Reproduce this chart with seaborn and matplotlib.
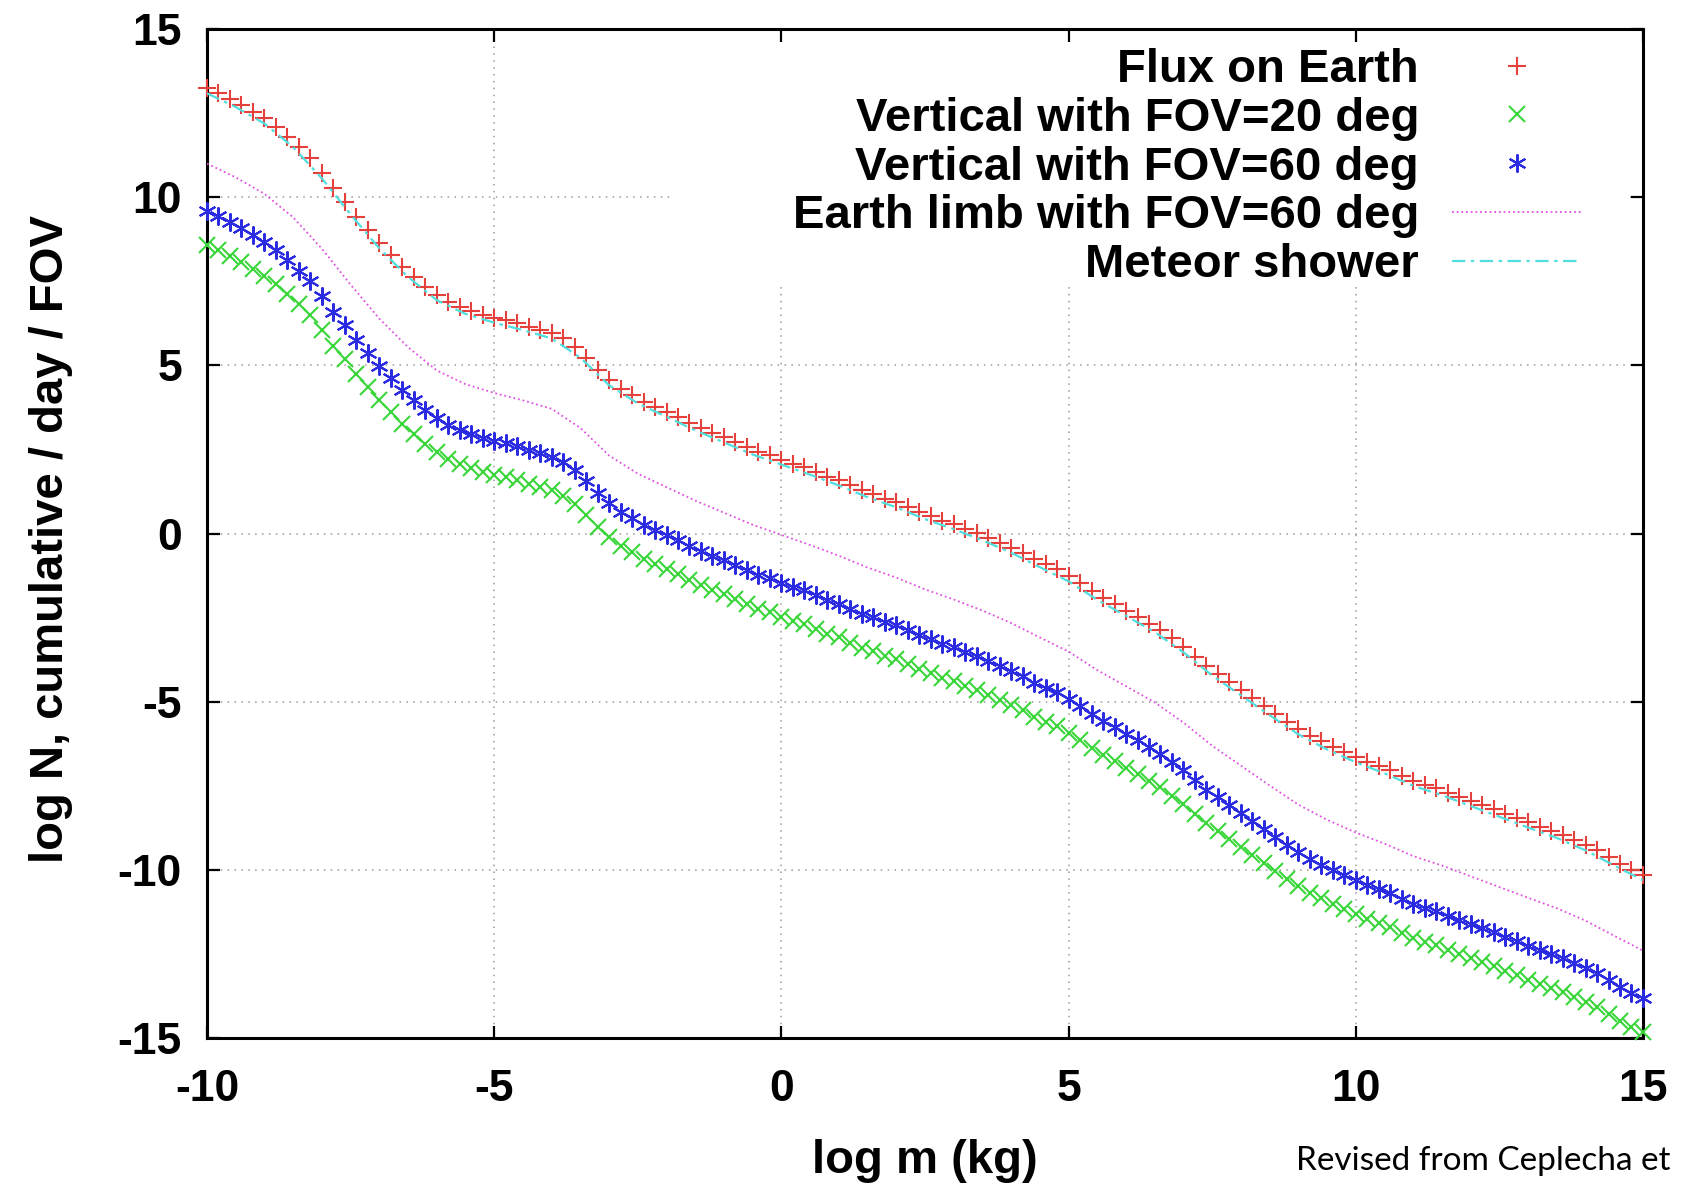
import numpy as np
import pandas as pd
import matplotlib
matplotlib.use("Agg")
import matplotlib.pyplot as plt
from matplotlib.patches import Rectangle
import seaborn as sns

# ---------------- data ----------------
log_m_fine = np.linspace(-10, 15, 126)   # marker sampling grid, step 0.2
log_m_coarse = np.linspace(-10, 15, 51)  # line sampling grid, step 0.5

flux_on_earth = [
    13.24, 13.09, 12.91, 12.74, 12.54, 12.34, 12.10, 11.80, 11.48, 11.16,
    10.71, 10.26, 9.86, 9.42, 9.02, 8.63, 8.28, 7.93, 7.63, 7.34,
    7.09, 6.89, 6.74, 6.62, 6.50, 6.42, 6.35, 6.25, 6.15, 6.05,
    5.95, 5.80, 5.55, 5.21, 4.86, 4.56, 4.31, 4.12, 3.92, 3.77,
    3.62, 3.47, 3.30, 3.15, 3.00, 2.86, 2.73, 2.58, 2.43, 2.33,
    2.20, 2.08, 1.98, 1.83, 1.68, 1.58, 1.43, 1.28, 1.18, 1.03,
    0.93, 0.78, 0.63, 0.53, 0.38, 0.28, 0.13, 0.03, -0.12, -0.27,
    -0.42, -0.57, -0.77, -0.92, -1.05, -1.27, -1.47, -1.72, -1.92, -2.10,
    -2.30, -2.47, -2.68, -2.88, -3.12, -3.38, -3.68, -3.95, -4.18, -4.41,
    -4.66, -4.90, -5.13, -5.37, -5.60, -5.82, -6.01, -6.18, -6.35, -6.49,
    -6.65, -6.80, -6.92, -7.04, -7.20, -7.35, -7.47, -7.57, -7.70, -7.83,
    -7.95, -8.08, -8.20, -8.33, -8.46, -8.59, -8.71, -8.83, -8.97, -9.12,
    -9.27, -9.42, -9.62, -9.82, -9.99, -10.16,
]

vertical_fov20 = [
    8.57, 8.42, 8.24, 8.07, 7.87, 7.67, 7.43, 7.13, 6.81, 6.49,
    6.04, 5.59, 5.19, 4.75, 4.35, 3.96, 3.61, 3.26, 2.96, 2.67,
    2.42, 2.22, 2.07, 1.95, 1.83, 1.75, 1.68, 1.58, 1.48, 1.38,
    1.28, 1.13, 0.88, 0.54, 0.19, -0.11, -0.36, -0.55, -0.75, -0.90,
    -1.05, -1.20, -1.37, -1.52, -1.67, -1.81, -1.94, -2.09, -2.24, -2.34,
    -2.47, -2.59, -2.69, -2.84, -2.99, -3.09, -3.24, -3.39, -3.49, -3.64,
    -3.74, -3.89, -4.04, -4.14, -4.29, -4.39, -4.54, -4.64, -4.79, -4.94,
    -5.09, -5.24, -5.44, -5.59, -5.72, -5.94, -6.14, -6.39, -6.59, -6.77,
    -6.97, -7.14, -7.35, -7.55, -7.79, -8.05, -8.35, -8.62, -8.85, -9.08,
    -9.33, -9.57, -9.80, -10.04, -10.27, -10.49, -10.68, -10.85, -11.02, -11.16,
    -11.32, -11.47, -11.59, -11.71, -11.87, -12.02, -12.14, -12.24, -12.37, -12.50,
    -12.62, -12.75, -12.87, -13.00, -13.13, -13.26, -13.38, -13.50, -13.64, -13.79,
    -13.94, -14.09, -14.29, -14.49, -14.66, -14.83,
]

vertical_fov60 = [
    9.58, 9.43, 9.25, 9.08, 8.88, 8.68, 8.44, 8.14, 7.82, 7.50,
    7.05, 6.60, 6.20, 5.76, 5.36, 4.97, 4.62, 4.27, 3.97, 3.68,
    3.43, 3.23, 3.08, 2.96, 2.84, 2.76, 2.69, 2.59, 2.49, 2.39,
    2.29, 2.14, 1.89, 1.55, 1.20, 0.90, 0.65, 0.46, 0.26, 0.11,
    -0.04, -0.19, -0.36, -0.51, -0.66, -0.80, -0.93, -1.08, -1.23, -1.33,
    -1.46, -1.58, -1.68, -1.83, -1.98, -2.08, -2.23, -2.38, -2.48, -2.63,
    -2.73, -2.88, -3.03, -3.13, -3.28, -3.38, -3.53, -3.63, -3.78, -3.93,
    -4.08, -4.23, -4.43, -4.58, -4.71, -4.93, -5.13, -5.38, -5.58, -5.76,
    -5.96, -6.13, -6.34, -6.54, -6.78, -7.04, -7.34, -7.61, -7.84, -8.07,
    -8.32, -8.56, -8.79, -9.03, -9.26, -9.48, -9.67, -9.84, -10.01, -10.15,
    -10.31, -10.46, -10.58, -10.70, -10.86, -11.01, -11.13, -11.23, -11.36, -11.49,
    -11.61, -11.74, -11.86, -11.99, -12.12, -12.25, -12.37, -12.49, -12.63, -12.78,
    -12.93, -13.08, -13.28, -13.48, -13.65, -13.82,
]

earth_limb_fov60 = [
    11.00, 10.59, 10.10, 9.40, 8.47, 7.40, 6.39, 5.54, 4.85, 4.44,
    4.18, 3.96, 3.71, 3.14, 2.32, 1.78, 1.38, 0.98, 0.62, 0.26,
    -0.04, -0.34, -0.66, -1.01, -1.31, -1.66, -1.96, -2.29, -2.66, -3.09,
    -3.51, -4.06, -4.54, -5.02, -5.62, -6.31, -6.90, -7.49, -8.06, -8.51,
    -8.89, -9.22, -9.59, -9.87, -10.19, -10.51, -10.83, -11.14, -11.51, -11.96,
    -12.40,
]

meteor_shower = [
    13.09, 12.68, 12.19, 11.49, 10.56, 9.49, 8.48, 7.63, 6.94, 6.53,
    6.27, 6.05, 5.80, 5.23, 4.41, 3.87, 3.47, 3.07, 2.71, 2.35,
    2.05, 1.75, 1.43, 1.08, 0.78, 0.43, 0.13, -0.20, -0.57, -1.00,
    -1.42, -1.97, -2.45, -2.93, -3.53, -4.22, -4.81, -5.40, -5.97, -6.42,
    -6.80, -7.13, -7.50, -7.78, -8.10, -8.42, -8.74, -9.05, -9.42, -9.87,
    -10.31,
]

series_labels = [
    "Flux on Earth",
    "Vertical with FOV=20 deg",
    "Vertical with FOV=60 deg",
    "Earth limb with FOV=60 deg",
    "Meteor shower",
]
x_ticks = [-10, -5, 0, 5, 10, 15]
y_ticks = [-15, -10, -5, 0, 5, 10, 15]
x_label = "log m (kg)"
y_label = "log N, cumulative / day / FOV"
source_note = "Revised from Ceplecha et"

# ---------------- styling ----------------
sns.set_theme(style="white")
plt.rcParams["font.family"] = ["Liberation Sans", "DejaVu Sans"]
plt.rcParams["font.weight"] = "bold"
plt.rcParams["axes.labelweight"] = "bold"
for k in ("text.color", "axes.labelcolor", "xtick.color", "ytick.color"):
    plt.rcParams[k] = "black"

fig = plt.figure(figsize=(16.87, 11.85), dpi=100)
ax = fig.add_axes([0.1227, 0.124, 0.8512, 0.8515])

c_red, c_green, c_blue = "#e5403c", "#3ad63a", "#2b2be2"
c_mag, c_cyan = "#e050e0", "#50dede"

sns.lineplot(x=log_m_fine, y=flux_on_earth, ax=ax, color=c_red, marker="+",
             linestyle="", markersize=13, markeredgewidth=1.5, markeredgecolor=c_red,
             errorbar=None, label=series_labels[0], clip_on=False, zorder=3)
sns.lineplot(x=log_m_fine, y=vertical_fov20, ax=ax, color=c_green, marker="x",
             linestyle="", markersize=11, markeredgewidth=1.5, markeredgecolor=c_green,
             errorbar=None, label=series_labels[1], clip_on=False, zorder=3)
sns.lineplot(x=log_m_fine, y=vertical_fov60, ax=ax, color=c_blue, marker=(6, 2, 0),
             linestyle="", markersize=13, markeredgewidth=1.5, markeredgecolor=c_blue,
             errorbar=None, label=series_labels[2], clip_on=False, zorder=3)
sns.lineplot(x=log_m_coarse, y=earth_limb_fov60, ax=ax, color=c_mag,
             linestyle=(0, (1, 1.6)), linewidth=1.3, errorbar=None,
             label=series_labels[3], zorder=3)
sns.lineplot(x=log_m_coarse, y=meteor_shower, ax=ax, color=c_cyan,
             linestyle=(0, (6, 2.5, 1.5, 2.5)), linewidth=1.6, errorbar=None,
             label=series_labels[4], zorder=3)

ax.set_xlim(-10, 15)
ax.set_ylim(-15, 15)
ax.set_xticks(x_ticks)
ax.set_yticks(y_ticks)
ax.set_xticklabels([str(v) for v in x_ticks])
ax.set_yticklabels([str(v) for v in y_ticks])

ax.set_axisbelow(True)
ax.grid(True, color="#9a9a9a", linestyle=(0, (1, 3.5)), linewidth=1.1)

for s in ax.spines.values():
    s.set_visible(True)
    s.set_color("black")
    s.set_linewidth(2.2)

ax.tick_params(axis="both", which="major", direction="in", length=9, width=1.6,
               top=True, right=True, bottom=True, left=True, color="black",
               labelsize=32, pad=22, labelcolor="black")
ax.tick_params(axis="y", pad=18)
for t in ax.get_xticklabels() + ax.get_yticklabels():
    t.set_fontweight("bold")

ax.set_xlabel(x_label, fontsize=34, fontweight="bold", color="black")
ax.set_ylabel(y_label, fontsize=34, fontweight="bold", color="black")
ax.xaxis.set_label_coords(0.5, -0.100)
ax.yaxis.set_label_coords(-0.093, 0.495)

# white key background that hides the grid behind the legend (as gnuplot does)
ax.add_patch(Rectangle((0.324, 0.746), 0.666, 0.240, transform=ax.transAxes,
                       facecolor="white", edgecolor="none", zorder=1))

handles, labels = ax.get_legend_handles_labels()
leg = ax.legend(handles, labels, loc="upper right", bbox_to_anchor=(0.9575, 0.981),
                frameon=False, markerfirst=False, fontsize=34, handlelength=2.75,
                handletextpad=0.7, labelspacing=0.1, borderaxespad=0, borderpad=0,
                numpoints=1)
for t in leg.get_texts():
    t.set_fontweight("bold")
    t.set_color("black")

fig.text(0.768, 0.0127, source_note, fontsize=24, family=["Lato", "DejaVu Sans"],
         fontweight="normal", ha="left", va="baseline", color="black")

fig.savefig("out.png", dpi=100)
